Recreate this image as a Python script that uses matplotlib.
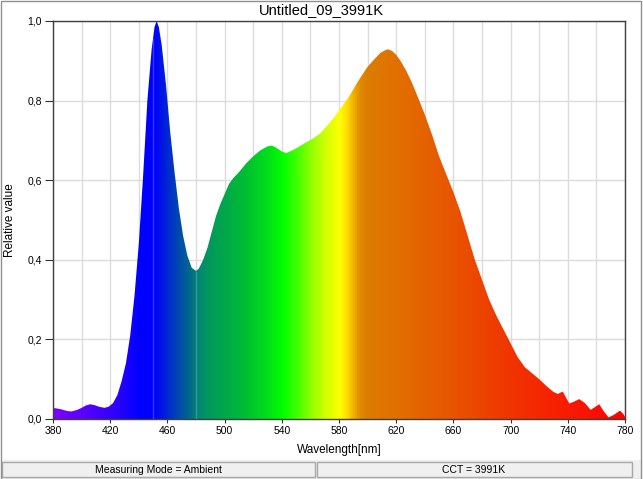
import numpy as np
from matplotlib import pyplot as plt
from matplotlib.colors import LinearSegmentedColormap, Normalize
from matplotlib.patches import PathPatch, Rectangle
from matplotlib.ticker import FixedLocator, MultipleLocator, FuncFormatter

plt.rcParams['font.family'] = ['Liberation Sans Narrow', 'Liberation Sans', 'DejaVu Sans']

title = 'Untitled_09_3991K'
status_left = 'Measuring Mode = Ambient'
status_right = 'CCT = 3991K'
x_ticks = [380, 420, 460, 500, 540, 580, 620, 660, 700, 740, 780]

# spectrum
wavelength = [
    380, 385, 390, 393, 397, 400, 403, 406, 409, 412, 416, 419, 422, 425,
    428, 431, 434, 437, 440, 443, 446, 449, 451, 452.5, 454, 456, 459, 462,
    465, 468, 471, 474, 477, 480, 482, 485, 488, 491, 494, 497, 500, 503,
    506, 510, 515, 520, 525, 530, 533, 536, 540, 543, 547, 552, 557, 562,
    567, 572, 577, 582, 587, 591, 595, 600, 605, 609, 612, 614, 617, 620,
    623, 627, 631, 635, 640, 645, 650, 655, 660, 665, 670, 675, 680, 685,
    690, 695, 700, 705, 710, 715, 720, 725, 730, 733, 736.5, 739, 741, 744,
    748, 752, 756, 759, 762, 765, 768.5, 772, 776.5, 779, 780,
]
relative = [
    0.028, 0.025, 0.020, 0.019, 0.023, 0.028, 0.034, 0.037, 0.035, 0.031,
    0.028, 0.031, 0.040, 0.060, 0.095, 0.14, 0.21, 0.31, 0.44, 0.61, 0.80,
    0.93, 0.985, 1.0, 0.985, 0.94, 0.84, 0.72, 0.62, 0.53, 0.46, 0.41,
    0.38, 0.372, 0.378, 0.40, 0.43, 0.47, 0.51, 0.54, 0.565, 0.59, 0.605,
    0.62, 0.642, 0.66, 0.675, 0.685, 0.687, 0.682, 0.672, 0.668, 0.674,
    0.684, 0.695, 0.705, 0.718, 0.738, 0.76, 0.785, 0.81, 0.835, 0.858,
    0.885, 0.905, 0.92, 0.926, 0.929, 0.925, 0.915, 0.90, 0.875, 0.845,
    0.81, 0.765, 0.715, 0.66, 0.615, 0.57, 0.52, 0.46, 0.40, 0.35, 0.30,
    0.26, 0.225, 0.19, 0.155, 0.13, 0.115, 0.10, 0.083, 0.068, 0.063,
    0.069, 0.052, 0.039, 0.043, 0.050, 0.040, 0.023, 0.030, 0.037, 0.020,
    0.004, 0.010, 0.021, 0.012, 0.005,
]
wavelength = np.array(wavelength)
relative = np.array(relative)

# colour of the fill along the wavelength axis
spectrum_stops = [
    (380, '#8000ff'), (400, '#5a00ff'), (425, '#2a00ff'), (440, '#0000ff'),
    (450, '#0000ff'), (455, '#0014e6'), (465, '#0040b8'), (475, '#006a88'),
    (482, '#008a70'), (490, '#009a58'), (500, '#00a84a'), (515, '#00c030'),
    (530, '#00e018'), (540, '#00ff00'), (550, '#40ff00'), (560, '#90ff00'),
    (570, '#d0ff00'), (580, '#ffff00'), (585, '#ffe000'), (590, '#f0b000'),
    (595, '#e08800'), (600, '#dc7c00'), (620, '#e27000'), (660, '#e85400'),
    (700, '#f03400'), (740, '#f81c00'), (780, '#ff0000'),
]
cmap = LinearSegmentedColormap.from_list(
    'spectrum', [((w - 380) / 400, c) for w, c in spectrum_stops])

W, H = 643, 479
fig = plt.figure(figsize=(W / 100, H / 100), dpi=100)
ax = fig.add_axes([53 / W, 1 - 419 / H, (625 - 53) / W, (419 - 21) / H])

# gradient clipped to the area under the curve
poly = ax.fill_between(wavelength, relative, 0, facecolor='none',
                       edgecolor='none')
clip = PathPatch(poly.get_paths()[0], transform=ax.transData,
                 facecolor='none', edgecolor='none')
ax.add_patch(clip)
grad = np.linspace(380, 780, 1200).reshape(1, -1)
im = ax.imshow(grad, extent=[380, 780, 0, 1], aspect='auto', cmap=cmap,
               norm=Normalize(380, 780), interpolation='bilinear', zorder=2)
im.set_clip_path(clip)

# faint seams in the fill
for seam in (450, 480):
    ax.vlines(seam, 0, np.interp(seam, wavelength, relative), color='white',
              alpha=0.22, linewidth=1, zorder=3)

ax.set_xlim(380, 780)
ax.set_ylim(0, 1)
ax.xaxis.set_major_locator(FixedLocator(x_ticks))
ax.xaxis.set_minor_locator(MultipleLocator(20))
ax.yaxis.set_major_locator(MultipleLocator(0.2))
ax.yaxis.set_major_formatter(FuncFormatter(lambda v, p: f'{v:.1f}'.replace('.', ',')))
ax.tick_params(axis='x', which='major', length=3, pad=2, labelsize=7.5,
               color='#333333')
ax.tick_params(axis='x', which='minor', length=0)
ax.tick_params(axis='y', length=6, pad=2, labelsize=7.5, color='#333333')
ax.grid(axis='x', which='both', color='#dcdcdc', linewidth=1, zorder=1)
ax.grid(axis='y', which='major', color='#dcdcdc', linewidth=1, zorder=1)
ax.set_axisbelow(True)
for side in ax.spines:
    ax.spines[side].set_color('#404040')
    ax.spines[side].set_linewidth(1)

ax.set_xlabel('Wavelength[nm]', fontsize=8.5, labelpad=6,
              family=['Liberation Sans', 'DejaVu Sans'])
ax.set_ylabel('Relative value', fontsize=8.5, labelpad=8,
              family=['Liberation Sans', 'DejaVu Sans'])
fig.text(0.5, 1 - 10 / H, title, ha='center', va='center', fontsize=10.5,
         family=['Liberation Sans', 'DejaVu Sans'])


def px_rect(x0, y0, x1, y1, **kw):
    fig.add_artist(Rectangle((x0 / W, 1 - y1 / H), (x1 - x0) / W,
                             (y1 - y0) / H, transform=fig.transFigure, **kw))


# status bar
px_rect(1, 460, 641, 478, facecolor='#f0f0f0', edgecolor='none')
px_rect(2, 462, 315, 477, facecolor='#f0f0f0', edgecolor='#a8a8a8', linewidth=1)
px_rect(317, 462, 632, 477, facecolor='#f0f0f0', edgecolor='#a8a8a8', linewidth=1)
fig.text(158 / W, 1 - 470 / H, status_left, ha='center', va='center',
         fontsize=7.5)
fig.text(474 / W, 1 - 470 / H, status_right, ha='center', va='center',
         fontsize=7.5)
# window outline
px_rect(0.5, 0.5, 640.5, 478.5, facecolor='none', edgecolor='#909090',
        linewidth=1)

fig.savefig('out.png', dpi=100)
